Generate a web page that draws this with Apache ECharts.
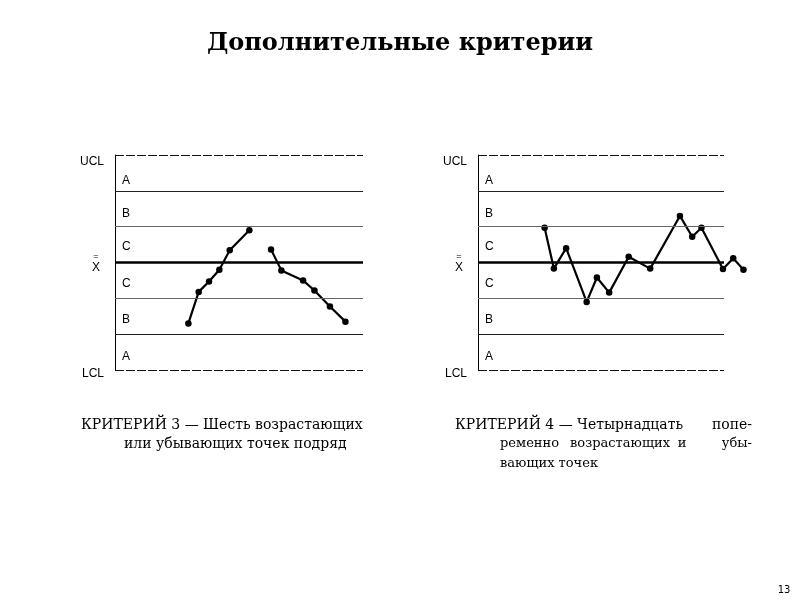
<!DOCTYPE html>
<html><head><meta charset="utf-8">
<script src="https://cdn.jsdelivr.net/npm/echarts@6/dist/echarts.min.js"></script>
<style>html,body{margin:0;padding:0;background:#fff}#c{width:800px;height:600px}</style>
</head><body><div id="c"></div>
<script>
// Data (sigma units: centre line = 0, UCL = 3, LCL = -3)
var leftRiseX = [7.1, 8.1, 9.1, 10.1, 11.1, 13.0];
var leftRiseY = [-1.70, -0.82, -0.53, -0.20, 0.34, 0.90];
var leftFallX = [15.1, 16.1, 18.2, 19.3, 20.8, 22.3];
var leftFallY = [0.36, -0.22, -0.50, -0.78, -1.23, -1.65];
var rightX = [6.5, 7.4, 8.6, 10.6, 11.6, 12.8, 14.7, 16.8, 19.7, 20.9, 21.8, 23.9, 24.9, 25.9];
var rightY = [0.97, -0.17, 0.40, -1.10, -0.42, -0.84, 0.16, -0.17, 1.30, 0.72, 0.97, -0.18, 0.12, -0.20];
var zoneLines = [3, 2, 1, 0, -1, -2, -3];
var sideLabels = ['UCL', '=', 'X', 'LCL'];
var zoneLetters = ['A', 'B', 'C', 'C', 'B', 'A'];

function pairs(xs, ys) { return xs.map(function (x, i) { return [x, ys[i]]; }); }

function lineStyleFor(v) {
  if (v === 3 || v === -3) return { color: '#111', width: 1, type: [9, 2] };
  if (v === 0) return { color: '#000', width: 2.6, type: 'solid' };
  if (v === 2 || v === -2) return { color: '#222', width: 1.2, type: 'solid' };
  return { color: '#666', width: 1, type: 'solid' };
}
function markLines() {
  return {
    silent: true, symbol: 'none', label: { show: false }, animation: false,
    data: zoneLines.map(function (v) {
      return [{ coord: [0, v], lineStyle: lineStyleFor(v) }, { coord: [24, v] }];
    })
  };
}
var dataLine = {
  type: 'line', symbol: 'circle', symbolSize: 6.5, clip: false, animation: false,
  lineStyle: { color: '#000', width: 2.2 }, itemStyle: { color: '#000' }
};
function mk(extra) { return Object.assign({}, dataLine, extra); }

var grids = [
  { left: 115, top: 155, width: 248, height: 215 },
  { left: 478, top: 155, width: 266.5, height: 215 }
];

// text graphics
var g = [];
function txt(x, y, s, font, align, va) {
  g.push({ type: 'text', x: x, y: y, silent: true,
    style: { text: s, font: font, fill: '#000', textAlign: align || 'left', textVerticalAlign: va || 'middle' } });
}
var sans = '12px "Liberation Sans", Arial, sans-serif';
var letterY = [181, 214, 247, 284, 320, 357];
[0, 363].forEach(function (dx) {
  txt(104 + dx, 162, sideLabels[0], sans, 'right');
  txt(96 + dx, 257, sideLabels[1], '9px "Liberation Sans", Arial, sans-serif', 'center');
  txt(96 + dx, 268, sideLabels[2], sans, 'center');
  txt(104 + dx, 374, sideLabels[3], sans, 'right');
  zoneLetters.forEach(function (L, i) { txt(122 + dx, letterY[i], L, sans, 'left'); });
});
var serif = '14px "DejaVu Serif", serif';
var serifR = '13px "DejaVu Serif", serif';
txt(400, 44, 'Дополнительные критерии', 'bold 24px "DejaVu Serif", serif', 'center');
txt(81, 425, 'КРИТЕРИЙ 3 — Шесть возрастающих', serif, 'left');
txt(124, 444, 'или убывающих точек подряд', serif, 'left');
txt(455, 425, 'КРИТЕРИЙ 4 — Четырнадцать', serif, 'left');
txt(752, 425, 'попе-', serif, 'right');
txt(500, 444, 'ременно', serifR, 'left');
txt(620, 444, 'возрастающих', serifR, 'center');
txt(682, 444, 'и', serifR, 'center');
txt(752, 444, 'убы-', serifR, 'right');
txt(500, 464, 'вающих точек', serifR, 'left');
txt(784, 590, '13', '10px "DejaVu Sans", sans-serif', 'center');

var axisCommon = function (i, max) {
  return {
    x: { type: 'value', gridIndex: i, min: 0, max: max, show: false },
    y: { type: 'value', gridIndex: i, min: -3, max: 3, axisLine: { show: true, onZero: false, lineStyle: { color: '#000', width: 1 } },
      axisTick: { show: false }, axisLabel: { show: false }, splitLine: { show: false } }
  };
};
var a0 = axisCommon(0, 24), a1 = axisCommon(1, 26);

var chart = echarts.init(document.getElementById('c'), null, { renderer: 'canvas' });
chart.setOption({
  backgroundColor: '#fff',
  animation: false,
  grid: grids,
  xAxis: [a0.x, a1.x],
  yAxis: [a0.y, a1.y],
  series: [
    mk({ xAxisIndex: 0, yAxisIndex: 0, data: pairs(leftRiseX, leftRiseY), markLine: markLines() }),
    mk({ xAxisIndex: 0, yAxisIndex: 0, data: pairs(leftFallX, leftFallY) }),
    mk({ xAxisIndex: 1, yAxisIndex: 1, data: pairs(rightX, rightY), markLine: markLines() })
  ],
  graphic: g
});
</script></body></html>
